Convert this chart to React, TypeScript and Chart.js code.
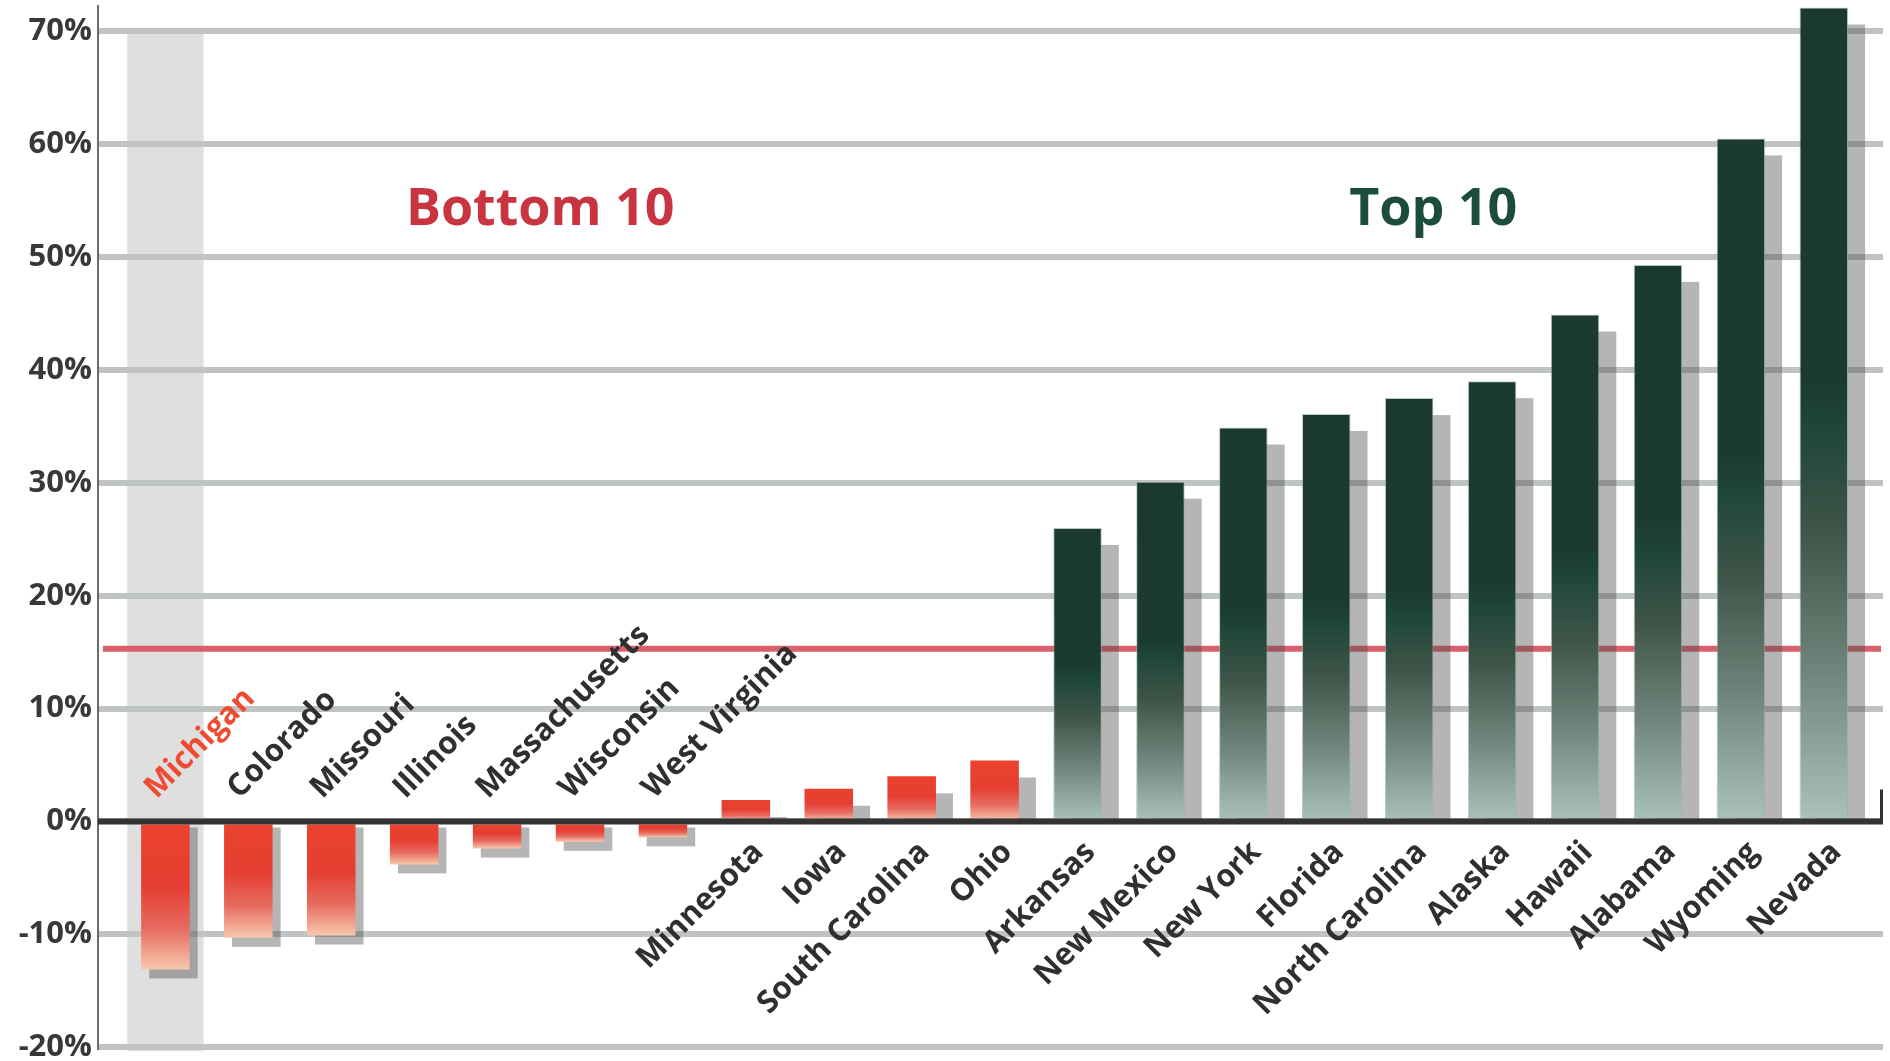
import React, { useEffect, useRef } from 'react';
import { Chart, registerables } from 'chart.js';

Chart.register(...registerables);

// ---- data ----
const states = [
  'Michigan', 'Colorado', 'Missouri', 'Illinois', 'Massachusetts', 'Wisconsin', 'West Virginia',
  'Minnesota', 'Iowa', 'South Carolina', 'Ohio',
  'Arkansas', 'New Mexico', 'New York', 'Florida', 'North Carolina', 'Alaska', 'Hawaii',
  'Alabama', 'Wyoming', 'Nevada',
];
const growth = [
  -13.1, -10.3, -10.1, -3.8, -2.4, -1.8, -1.4,
  1.9, 2.9, 4.0, 5.4,
  26.0, 30.1, 34.9, 36.1, 37.5, 39.0, 44.9, 49.3, 60.5, 72.1,
];
const groups = [
  'bottom', 'bottom', 'bottom', 'bottom', 'bottom', 'bottom', 'bottom',
  'bottom', 'bottom', 'bottom', 'bottom',
  'top', 'top', 'top', 'top', 'top', 'top', 'top', 'top', 'top', 'top',
];
const yTicks = [-20, -10, 0, 10, 20, 30, 40, 50, 60, 70];
const nationalAverage = 15.3;
const highlighted = 'Michigan';
const groupTitles = ['Bottom 10', 'Top 10'];

const FONT = '"Open Sans", "Noto Sans", sans-serif';

function barFill(c: any) {
  const chart = c.chart;
  const y = chart.scales && chart.scales.y;
  if (!y || c.type !== 'data' || !c.raw) return '#888';
  const v = c.raw.y;
  const top = y.getPixelForValue(Math.max(v, 0));
  const bot = y.getPixelForValue(Math.min(v, 0));
  if (!isFinite(top) || !isFinite(bot) || top === bot) return '#888';
  const g = chart.ctx.createLinearGradient(0, top, 0, bot);
  if (groups[c.dataIndex] === 'top') {
    g.addColorStop(0, '#1b3a2f');
    g.addColorStop(0.46, '#1b3b30');
    g.addColorStop(0.52, '#1f4738');
    g.addColorStop(0.64, '#3e5449');
    g.addColorStop(0.82, '#71877d');
    g.addColorStop(1, '#aac3ba');
  } else {
    g.addColorStop(0, '#ea422c');
    g.addColorStop(0.45, '#e63f33');
    g.addColorStop(0.72, '#e76a5f');
    g.addColorStop(1, '#f7c8ae');
  }
  return g;
}

const backdropPlugin = {
  id: 'backdrop',
  beforeDraw(chart: any) {
    const { ctx, chartArea, scales } = chart;
    const x = scales.x;
    const y = scales.y;
    ctx.save();
    ctx.fillStyle = '#ffffff';
    ctx.fillRect(0, 0, chart.width, chart.height);
    const hi = states.indexOf(highlighted);
    const unit = Math.abs(x.getPixelForValue(1) - x.getPixelForValue(0));
    const cx = x.getPixelForValue(hi);
    ctx.fillStyle = '#dfdfdf';
    const top = y.getPixelForValue(70) - 2;
    ctx.fillRect(cx - unit * 0.46, top, unit * 0.92, chartArea.bottom + 4 - top);
    ctx.restore();
  },
};

const underBarsPlugin = {
  id: 'underBars',
  beforeDatasetsDraw(chart: any) {
    const { ctx, chartArea, scales } = chart;
    const y = scales.y;
    ctx.save();
    const ay = y.getPixelForValue(nationalAverage);
    ctx.strokeStyle = '#d9606a';
    ctx.lineWidth = 6;
    ctx.beginPath();
    ctx.moveTo(chartArea.left + 5, ay);
    ctx.lineTo(chartArea.right - 2, ay);
    ctx.stroke();

    const zero = y.getPixelForValue(0);
    const meta = chart.getDatasetMeta(0);
    ctx.fillStyle = 'rgba(78,78,78,0.42)';
    meta.data.forEach((el: any) => {
      const w = el.width;
      const left = el.x - w / 2;
      if (el.y < zero) {
        const h = zero - el.y - 17;
        if (h > 0) ctx.fillRect(left + 17, el.y + 17, w, h);
      } else {
        ctx.fillRect(left + 8, zero + 6, w, el.y - zero + 3);
      }
    });
    ctx.restore();
  },
};

const overBarsPlugin = {
  id: 'overBars',
  afterDatasetsDraw(chart: any) {
    const { ctx, chartArea, scales } = chart;
    const x = scales.x;
    const y = scales.y;
    const zero = y.getPixelForValue(0);
    ctx.save();
    // zero line
    ctx.strokeStyle = '#333333';
    ctx.lineWidth = 6;
    ctx.beginPath();
    ctx.moveTo(chartArea.left, zero);
    ctx.lineTo(chartArea.right, zero);
    ctx.stroke();
    ctx.lineWidth = 3;
    ctx.beginPath();
    ctx.moveTo(chartArea.right - 1.5, zero);
    ctx.lineTo(chartArea.right - 1.5, zero - 32);
    ctx.stroke();

    // category labels
    ctx.font = 'bold 31px ' + FONT;
    ctx.textBaseline = 'alphabetic';
    states.forEach((s, i) => {
      const cx = x.getPixelForValue(i);
      ctx.save();
      ctx.fillStyle = s === highlighted ? '#ee4b31' : '#2f2f2f';
      if (growth[i] < 0) {
        ctx.translate(cx - 9, zero - 22);
        ctx.rotate(-Math.PI / 4);
        ctx.textAlign = 'left';
      } else {
        ctx.translate(cx + 19, zero + 32);
        ctx.rotate(-Math.PI / 4);
        ctx.textAlign = 'right';
      }
      ctx.fillText(s, 0, 0);
      ctx.restore();
    });

    // group titles
    ctx.font = 'bold 52px ' + FONT;
    ctx.textAlign = 'center';
    ctx.textBaseline = 'alphabetic';
    ctx.fillStyle = '#c8343f';
    ctx.fillText(groupTitles[0], x.getPixelForValue(4.52), y.getPixelForValue(52.8));
    ctx.fillStyle = '#1c4d3c';
    ctx.fillText(groupTitles[1], x.getPixelForValue(15.29), y.getPixelForValue(52.8));
    ctx.restore();
  },
};

export default function App() {
  const ref = useRef<HTMLCanvasElement | null>(null);
  useEffect(() => {
    if (!ref.current) return;
    const chart = new Chart(ref.current, {
      type: 'bar',
      data: {
        datasets: [
          {
            data: growth.map((v, i) => ({ x: i, y: v })),
            backgroundColor: barFill,
            borderWidth: (c: any) => (groups[c.dataIndex] === 'top' ? 1 : 0),
            borderColor: 'rgba(150,175,165,0.7)',
            borderSkipped: 'start',
            barPercentage: 0.72,
            categoryPercentage: 1,
          } as any,
        ],
      },
      options: {
        responsive: false,
        animation: false,
        devicePixelRatio: 1,
        layout: { padding: { top: 6, right: 7, bottom: 13.7, left: 0 } },
        plugins: { legend: { display: false }, tooltip: { enabled: false }, title: { display: false } },
        scales: {
          x: {
            type: 'linear',
            min: -0.813,
            max: 20.714,
            offset: false,
            display: false,
          },
          y: {
            min: -20,
            max: 72.23,
            afterBuildTicks: (scale: any) => {
              scale.ticks = yTicks.map((v) => ({ value: v }));
            },
            afterFit: (scale: any) => {
              scale.width = 98;
              scale.paddingTop = 0;
              scale.paddingBottom = 0;
            },
            grid: { color: '#bfc3c3', lineWidth: 6, drawTicks: false },
            border: { display: true, color: '#6a6a6a', width: 2 },
            ticks: {
              padding: 6,
              color: '#383838',
              font: { family: FONT, weight: 'bold', size: 31 },
              callback: (v: any) => v + '%',
            },
          },
        },
      } as any,
      plugins: [backdropPlugin, underBarsPlugin, overBarsPlugin],
    });
    return () => chart.destroy();
  }, []);
  return (
    <div style={{ position: 'fixed', left: 0, top: 0, width: 1890, height: 1061, background: '#fff' }}>
      <canvas ref={ref} width={1890} height={1061} style={{ display: 'block', width: 1890, height: 1061 }} />
    </div>
  );
}
